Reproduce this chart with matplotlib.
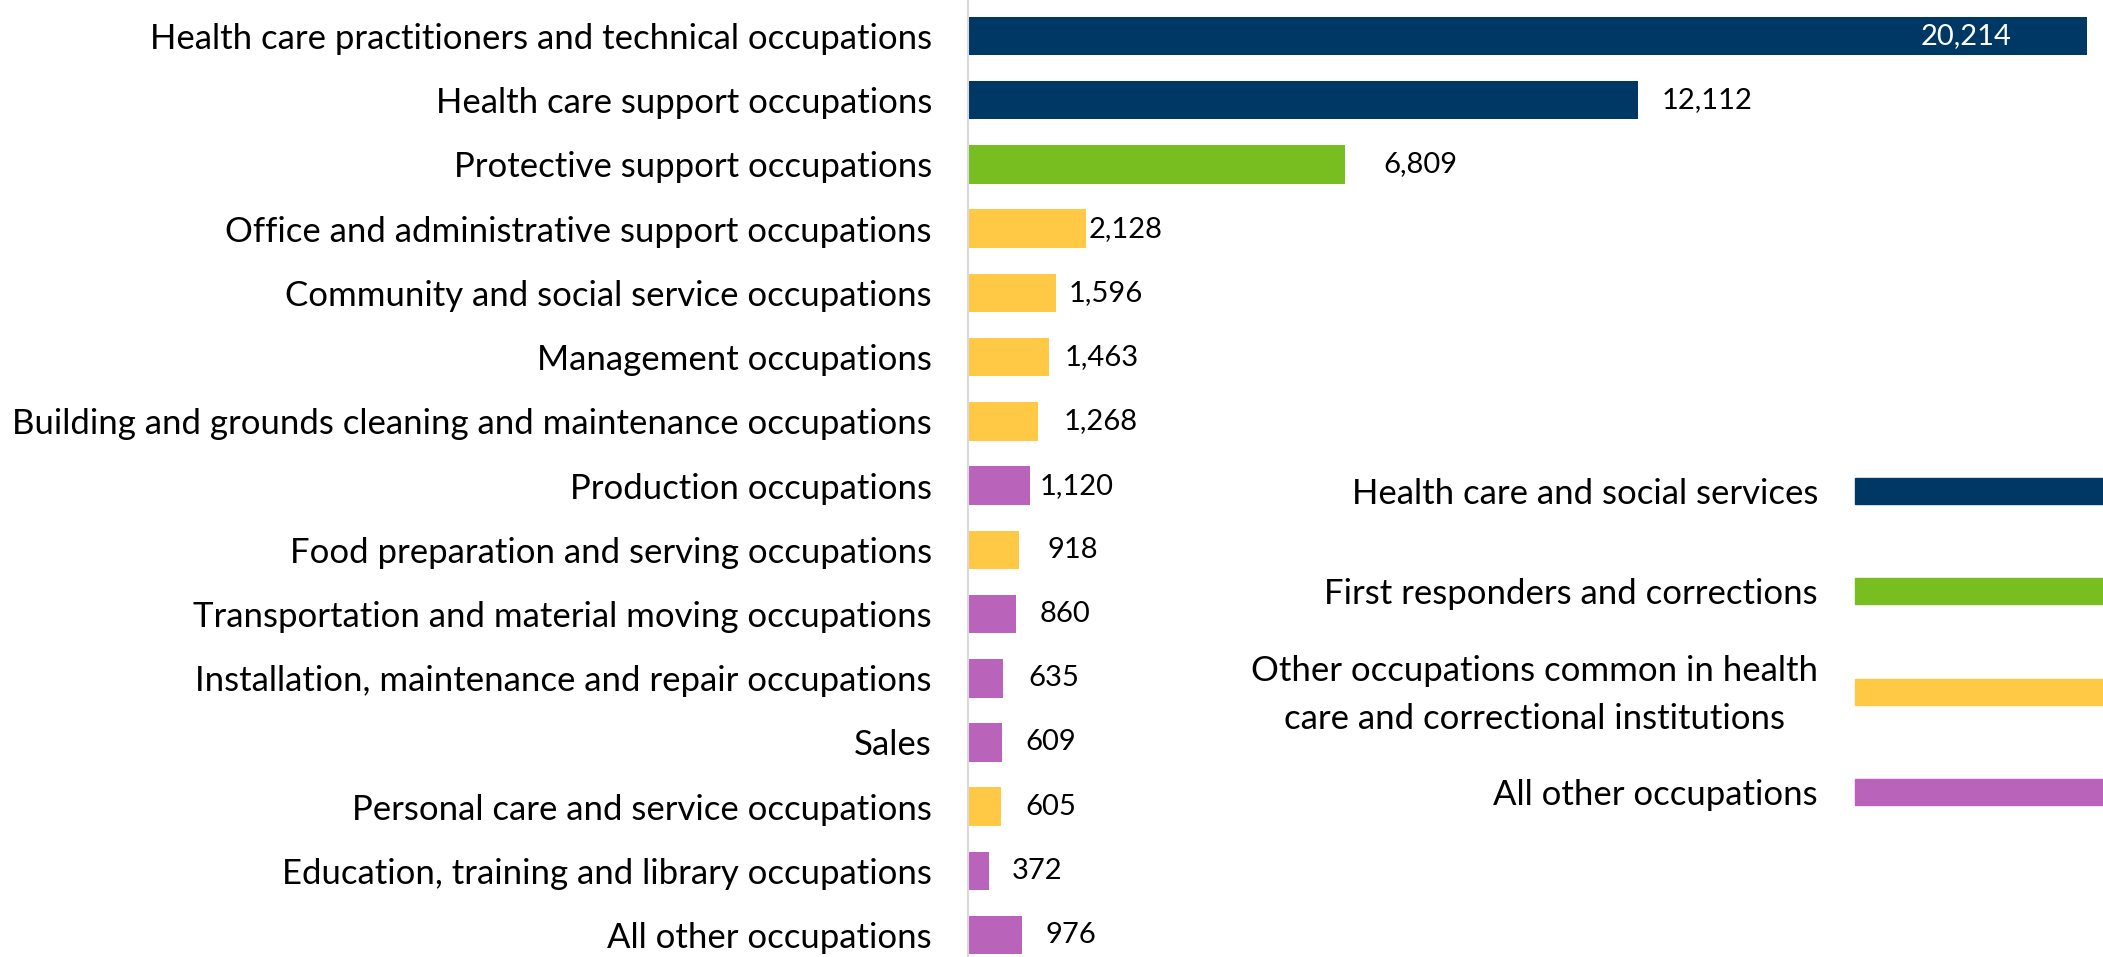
import matplotlib.pyplot as plt
from matplotlib.patches import Rectangle

# Data
categories = [
    'Health care practitioners and technical occupations',
    'Health care support occupations',
    'Protective support occupations',
    'Office and administrative support occupations',
    'Community and social service occupations',
    'Management occupations',
    'Building and grounds cleaning and maintenance occupations',
    'Production occupations',
    'Food preparation and serving occupations',
    'Transportation and material moving occupations',
    'Installation, maintenance and repair occupations',
    'Sales',
    'Personal care and service occupations',
    'Education, training and library occupations',
    'All other occupations',
]
values = [20214, 12112, 6809, 2128, 1596, 1463, 1268, 1120, 918, 860, 635, 609, 605, 372, 976]
groups = [0, 0, 1, 2, 2, 2, 2, 3, 2, 3, 3, 3, 2, 3, 3]

group_names = [
    'Health care and social services',
    'First responders and corrections',
    'Other occupations common in health\ncare and correctional institutions',
    'All other occupations',
]
group_colors = ['#003865', '#78BE21', '#FFC845', '#B963BA']

# label offsets from bar end (points); first label sits inside the bar
label_gaps = [-54, 17, 28, 2, 9, 11, 18, 7, 21, 17, 18, 17, 17, 17, 17]

plt.rcParams['font.family'] = ['Lato', 'DejaVu Sans']

fig = plt.figure(figsize=(21.03, 9.57), dpi=100)
ax = fig.add_axes([968 / 2103, 0, (2087 - 968) / 2103, 1])

ypos = list(range(len(categories)))
colors = [group_colors[g] for g in groups]
ax.barh(ypos, values, height=0.6, color=colors)

ax.set_xlim(0, 20214)
ax.set_ylim(14.34, -0.56)
ax.set_yticks(ypos)
ax.set_yticklabels(categories, fontsize=25)
ax.tick_params(axis='y', length=0, pad=26)
ax.set_xticks([])

for s in ['top', 'right', 'bottom']:
    ax.spines[s].set_visible(False)
ax.spines['left'].set_color('#d9d9d9')
ax.spines['left'].set_linewidth(1.5)

# value labels
for i, (v, gap) in enumerate(zip(values, label_gaps)):
    if gap < 0:
        ax.annotate(f'{v:,}', (v, i), xytext=(gap, 0), textcoords='offset points',
                    ha='right', va='center', fontsize=21, color='white')
    else:
        ax.annotate(f'{v:,}', (v, i), xytext=(gap, 0), textcoords='offset points',
                    ha='left', va='center', fontsize=21, color='black')

# legend (text to the left of long colour swatches)
legend_y = [0.487, 0.3825, 0.277, 0.172]
for name, col, y in zip(group_names, group_colors, legend_y):
    fig.text(1818 / 2103, y - 0.003, name, ha='right', va='center', fontsize=25,
             multialignment='center', linespacing=1.6)
    fig.patches.append(Rectangle((1855 / 2103, y - 0.0136), 0.2, 0.0272,
                                 transform=fig.transFigure, color=col))

plt.savefig('out.png', dpi=100, facecolor='white')
